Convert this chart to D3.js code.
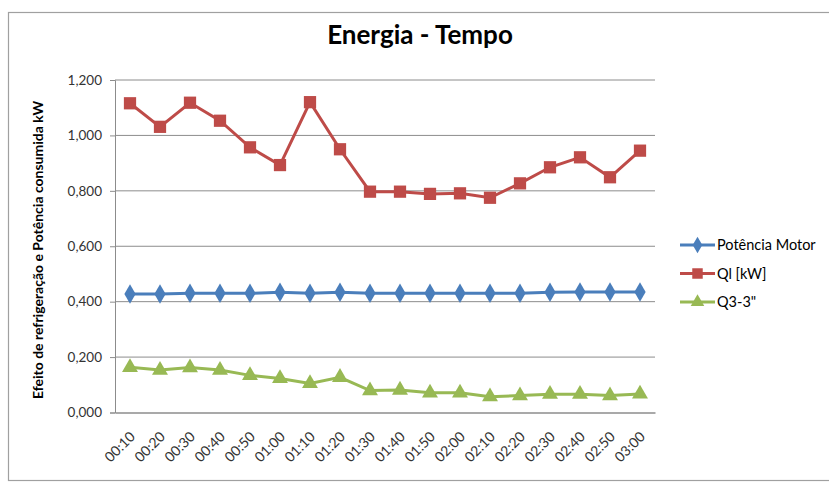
<!DOCTYPE html>
<html>
<head>
<meta charset="utf-8">
<script src="https://cdn.jsdelivr.net/npm/d3@7"></script>
<style>
  body { margin: 0; background: #fff; }
  svg { display: block; }
</style>
</head>
<body>
<svg id="chart" width="829" height="483"></svg>
<script>
const fontFamily = "Lato, 'Open Sans', sans-serif";

// Categories (time) and series values
const times = ["00:10", "00:20", "00:30", "00:40", "00:50", "01:00", "01:10", "01:20", "01:30",
  "01:40", "01:50", "02:00", "02:10", "02:20", "02:30", "02:40", "02:50", "03:00"];
const potenciaMotor = [0.428, 0.428, 0.430, 0.430, 0.430, 0.434, 0.430, 0.434, 0.430,
  0.430, 0.430, 0.430, 0.430, 0.430, 0.434, 0.435, 0.435, 0.435];
const qlKw = [1.116, 1.031, 1.118, 1.053, 0.957, 0.893, 1.120, 0.950, 0.797,
  0.797, 0.789, 0.791, 0.775, 0.827, 0.885, 0.921, 0.849, 0.945];
const q33 = [0.163, 0.153, 0.162, 0.153, 0.134, 0.123, 0.105, 0.127, 0.079,
  0.081, 0.071, 0.071, 0.057, 0.061, 0.066, 0.066, 0.061, 0.067];
const yTicks = [0, 0.2, 0.4, 0.6, 0.8, 1.0, 1.2];

const series = [
  { name: "Potência Motor", values: potenciaMotor, color: "#4a7ebb", symbol: d3.symbolDiamond },
  { name: "Ql [kW]", values: qlKw, color: "#be4b48", symbol: d3.symbolSquare },
  { name: "Q3-3\"", values: q33, color: "#98b954", symbol: d3.symbolTriangle }
];

const svg = d3.select("#chart");
const margin = { left: 115, right: 655, top: 80, bottom: 412.5 };

// Outer chart frame
svg.append("rect")
  .attr("x", 8.5).attr("y", 12.5)
  .attr("width", 840).attr("height", 468)
  .attr("fill", "#fff")
  .attr("stroke", "#a0a0a0")
  .attr("stroke-width", 1.2);

const x = d3.scaleBand().domain(times).range([margin.left, margin.right]);
const y = d3.scaleLinear().domain([0, 1.2]).range([margin.bottom, margin.top]);
const cx = d => x(d) + x.bandwidth() / 2;

// Gridlines
svg.append("g")
  .selectAll("line")
  .data(yTicks.slice(1))
  .join("line")
  .attr("x1", margin.left).attr("x2", margin.right)
  .attr("y1", d => y(d)).attr("y2", d => y(d))
  .attr("stroke", "#8c8c8c")
  .attr("stroke-width", 1);

// Y axis
const yAxis = svg.append("g")
  .attr("transform", `translate(${margin.left},0)`)
  .call(d3.axisLeft(y).tickValues(yTicks).tickSize(5)
    .tickFormat(d => d3.format(",.3f")(d).replace(".", ",")));
yAxis.select(".domain").attr("stroke", "#8c8c8c");
yAxis.selectAll(".tick line").attr("stroke", "#8c8c8c");
yAxis.selectAll("text")
  .attr("font-family", fontFamily)
  .attr("font-size", "13.5px")
  .attr("fill", "#333")
  .attr("dx", "-5");

// X axis
const xAxis = svg.append("g")
  .attr("transform", `translate(0,${margin.bottom})`)
  .call(d3.axisBottom(x).tickSize(0));
xAxis.select(".domain").attr("stroke", "#8c8c8c").attr("stroke-width", 1.3);
xAxis.selectAll("text")
  .attr("font-family", fontFamily)
  .attr("font-size", "14px")
  .attr("fill", "#333")
  .attr("text-anchor", "end")
  .attr("dy", null)
  .attr("y", 0)
  .attr("transform", "translate(6,25) rotate(-45)");

// Series lines and markers
const line = d3.line().x((d, i) => cx(times[i])).y(d => y(d));
series.forEach(s => {
  svg.append("path")
    .datum(s.values)
    .attr("d", line)
    .attr("fill", "none")
    .attr("stroke", s.color)
    .attr("stroke-width", 3);
  svg.append("g")
    .selectAll("path")
    .data(s.values)
    .join("path")
    .attr("d", d3.symbol().type(s.symbol).size(s.symbol === d3.symbolSquare ? 150 : 110))
    .attr("transform", (d, i) => `translate(${cx(times[i])},${y(d)})`)
    .attr("fill", s.color);
});

// Title
svg.append("text")
  .attr("x", 420).attr("y", 44)
  .attr("text-anchor", "middle")
  .attr("font-family", fontFamily)
  .attr("font-size", "26px")
  .attr("font-weight", "700")
  .attr("fill", "#000")
  .text("Energia - Tempo");

// Y axis title
svg.append("text")
  .attr("transform", "translate(43,250) rotate(-90)")
  .attr("text-anchor", "middle")
  .attr("font-family", fontFamily)
  .attr("font-size", "14px")
  .attr("font-weight", "700")
  .attr("fill", "#000")
  .text("Efeito de refrigeração e Potência consumida kW");

// Legend
const legend = svg.append("g").attr("transform", "translate(680,245)");
series.forEach((s, i) => {
  const g = legend.append("g").attr("transform", `translate(0,${i * 28.5})`);
  g.append("line")
    .attr("x1", 0).attr("x2", 35)
    .attr("stroke", s.color)
    .attr("stroke-width", 3);
  g.append("path")
    .attr("d", d3.symbol().type(s.symbol).size(s.symbol === d3.symbolSquare ? 110 : 80))
    .attr("transform", "translate(17.5,0)")
    .attr("fill", s.color);
  g.append("text")
    .attr("x", 37).attr("y", 5)
    .attr("font-family", fontFamily)
    .attr("font-size", "14.5px")
    .attr("fill", "#000")
    .text(s.name);
});
</script>
</body>
</html>
